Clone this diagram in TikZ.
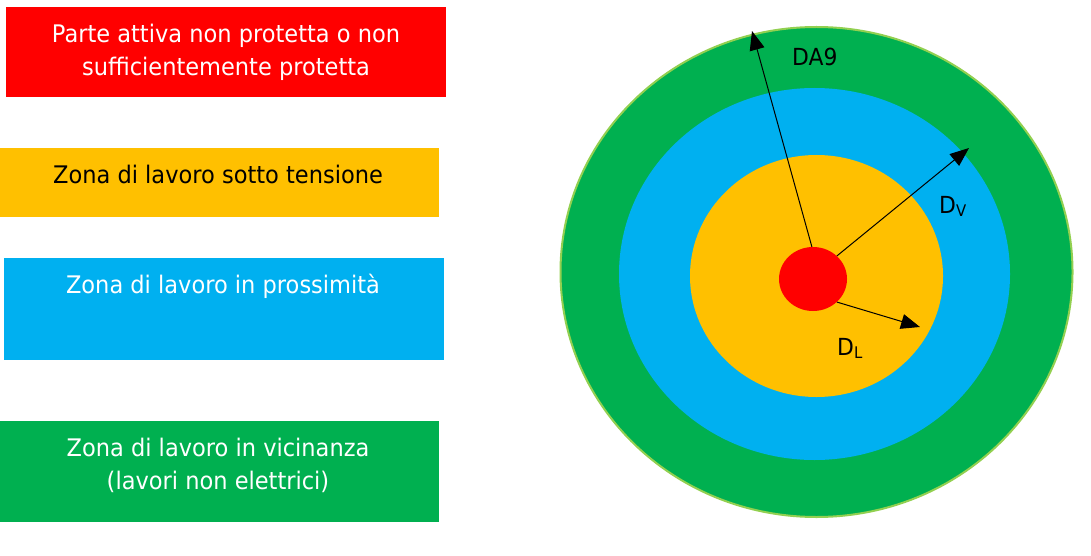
\documentclass[tikz,border=0pt]{standalone}
\usepackage{fontspec}
\setmainfont{DejaVu Sans}
\newfontfamily\legfont[FakeStretch=0.93]{DejaVu Sans}
\usetikzlibrary{shapes.geometric,arrows.meta}
\definecolor{cred}{HTML}{FF0000}
\definecolor{cyel}{HTML}{FFC000}
\definecolor{cblue}{HTML}{00B0F0}
\definecolor{cgreen}{HTML}{00B050}
\definecolor{cedge}{HTML}{92D050}
\tikzset{
  legtxt/.style={anchor=base, inner sep=0pt, font=\legfont\fontsize{24.2}{28}\selectfont},
  ring/.style={ellipse, inner sep=0pt, draw=none},
  radius arrow/.style={draw=black, line width=1pt, -{Triangle[length=19pt,width=15pt]}},
  lbl/.style={anchor=base west, inner sep=0pt, font=\legfont\fontsize{23.5}{26}\selectfont},
}
\newcommand{\mysub}[1]{\raisebox{-3.5pt}{\fontsize{16}{16}\selectfont #1}}
\begin{document}
\begin{tikzpicture}[x=1pt,y=-1pt]
\useasboundingbox (0,0) rectangle (1091,556);
% legend boxes
\fill[cred] (6,7) rectangle (446,97);
\node[legtxt, text=white] (t1a) at (226,43) {Parte attiva non protetta o non};
\node[legtxt, text=white] (t1b) at (226,76) {sufficientemente protetta};
\fill[cyel] (0,148) rectangle (439,217);
\node[legtxt, text=black] (t2) at (218,183) {Zona di lavoro sotto tensione};
\fill[cblue] (4,258) rectangle (444,360);
\node[legtxt, text=white] (t3) at (223,293) {Zona di lavoro in prossimità};
\fill[cgreen] (0,421) rectangle (439,522);
\node[legtxt, text=white] (t4a) at (218,456) {Zona di lavoro in vicinanza};
\node[legtxt, text=white] (t4b) at (218,489) {(lavori non elettrici)};
% rings
\node[ring, fill=cgreen, draw=cedge, line width=2pt, minimum width=512pt, minimum height=490pt] (g) at (816.5,272) {};
\node[ring, fill=cblue, minimum width=391pt, minimum height=372pt] (b) at (814.5,274) {};
\node[ring, fill=cyel, minimum width=253pt, minimum height=242pt] (y) at (816.5,276) {};
\node[ring, fill=cred, minimum width=68pt, minimum height=64pt] (r) at (813,279) {};
% arrow ends
\coordinate (ea) at (752,31);
\coordinate (ev) at (969,148);
\coordinate (el) at (920,327);
\draw[radius arrow] (r.92) -- (ea);
\draw[radius arrow] (r.44) -- (ev);
\draw[radius arrow] (r.-44) -- (el);
% labels
\node[lbl] (la) at (792,66) {DA9};
\node[lbl] (lv) at (939,213) {D\mysub{V}};
\node[lbl] (ll) at (837,355) {D\mysub{L}};
\end{tikzpicture}
\end{document}
